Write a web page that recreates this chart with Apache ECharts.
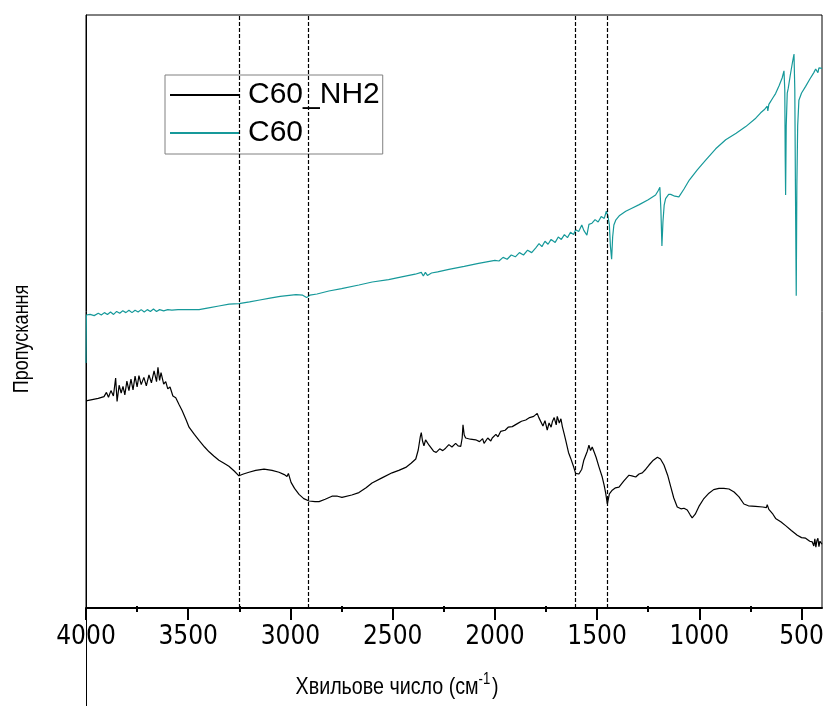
<!DOCTYPE html>
<html>
<head>
<meta charset="utf-8">
<script src="https://cdn.jsdelivr.net/npm/echarts@6/dist/echarts.min.js"></script>
<style>html,body{margin:0;padding:0;background:#fff}#c{width:823px;height:706px}</style>
</head>
<body>
<div id="c"></div>
<script>
// ---- data ----
const seriesNames = ['C60_NH2', 'C60'];
const majorTicks = [500, 1000, 1500, 2000, 2500, 3000, 3500, 4000];
const minorTicks = [750, 1250, 1750, 2250, 2750, 3250, 3750];
const markedBands = [3250, 2915, 1605, 1450];

const nh2Wn = [4000,3970,3940,3912,3900,3890,3878,3866,3855,3848,3838,3828,3819,3810,3800,3790,3780,3770,3760,3750,3741,3730,3717,3705,3692,3680,3667,3655,3648,3640,3633,3620,3610,3600,3589,3575,3561,3545,3530,3510,3496,3470,3447,3420,3398,3375,3350,3325,3301,3275,3252,3230,3203,3170,3129,3090,3056,3030,3017,3010,2997,2980,2958,2935,2909,2880,2860,2830,2797,2770,2748,2700,2665,2630,2601,2550,2503,2470,2436,2410,2387,2375,2365,2360,2354,2347,2339,2330,2322,2300,2287,2270,2255,2241,2225,2210,2192,2180,2167,2160,2156,2150,2143,2120,2094,2075,2060,2053,2035,2020,2013,1995,1985,1972,1950,1935,1915,1890,1870,1849,1830,1810,1793,1785,1776,1765,1755,1744,1735,1725,1719,1710,1700,1695,1685,1677,1670,1662,1654,1640,1629,1615,1605,1589,1575,1565,1556,1548,1540,1532,1524,1515,1505,1491,1475,1466,1458,1450,1440,1426,1410,1393,1370,1344,1330,1311,1295,1279,1262,1246,1225,1205,1190,1173,1155,1140,1125,1108,1090,1075,1066,1059,1045,1035,1020,1002,980,953,930,904,880,855,830,806,782,760,725,690,672,668,660,640,627,600,578,550,521,500,480,460,448,440,435,430,425,420,415,410,405,400];
const nh2T = [34.2,34.4,34.6,34.9,35.6,34.8,35.9,35.0,38.0,34.1,36.8,35.5,36.6,35.2,37.5,35.9,37.8,36.0,38.3,36.5,38.4,36.9,38.1,36.7,38.5,37.2,39.2,37.4,39.8,37.6,38.9,37.0,37.4,36.2,36.5,35.0,34.7,33.6,32.6,31.0,29.8,28.6,27.6,26.5,25.7,25.0,24.3,23.8,23.3,22.5,21.7,22.0,22.3,22.6,22.8,22.6,22.3,21.9,21.6,22.1,20.6,19.6,18.6,17.9,17.5,17.4,17.4,17.8,18.3,18.3,18.1,18.5,18.9,19.7,20.5,21.4,22.2,22.6,23.1,23.8,24.5,26.0,28.2,28.9,27.5,26.7,27.7,27.5,26.8,25.8,25.6,26.2,25.9,26.3,26.9,26.5,27.1,26.7,26.6,28.0,30.2,28.5,28.0,27.8,27.7,27.4,27.9,27.1,28.0,27.5,28.0,28.6,28.2,29.1,29.3,29.8,29.9,30.4,30.8,31.0,31.4,31.6,32.1,31.4,31.1,30.0,30.9,29.3,30.5,29.8,30.7,31.4,30.2,31.6,30.5,31.2,29.9,28.8,27.7,25.6,24.6,23.2,22.1,22.0,22.8,24.3,24.3,25.8,26.8,25.9,26.5,25.7,24.8,23.2,21.5,20.2,18.8,17.0,18.7,19.3,19.7,19.8,20.8,21.8,21.7,21.5,22.0,22.2,22.8,23.5,24.3,24.8,24.5,23.5,21.8,19.9,18.0,16.5,16.2,16.3,16.2,16.0,15.2,14.7,15.3,16.6,17.8,18.8,19.4,19.6,19.6,19.5,19.0,18.2,17.0,16.7,16.6,16.5,16.4,16.9,16.1,15.3,14.6,14.0,13.4,12.6,11.8,11.4,11.3,10.8,10.7,10.0,11.2,9.8,10.9,11.3,9.9,10.8,10.5,10.3];

const c60Wn = [4000,3998,3980,3960,3940,3925,3910,3895,3880,3865,3850,3835,3820,3805,3790,3775,3760,3745,3730,3715,3700,3685,3670,3655,3640,3620,3600,3580,3550,3500,3447,3400,3350,3300,3252,3200,3150,3100,3050,2973,2940,2921,2905,2870,2812,2750,2665,2600,2520,2450,2390,2360,2350,2340,2330,2310,2280,2225,2150,2080,2000,1980,1960,1940,1920,1900,1880,1860,1840,1820,1800,1784,1770,1755,1740,1725,1705,1690,1675,1660,1645,1630,1615,1605,1590,1575,1565,1550,1540,1525,1510,1495,1480,1465,1455,1447,1440,1435,1429,1424,1418,1409,1390,1360,1330,1294,1250,1214,1200,1193,1188,1183,1178,1172,1165,1150,1140,1120,1100,1075,1049,1010,969,920,871,820,773,724,700,680,668,665,660,640,627,610,595,586,582,580,578,575,570,565,555,545,537,533,530,526,523,519,513,500,480,460,440,431,425,420,415,410,400];
const c60T = [40.5,48.5,48.6,48.4,48.8,48.5,48.9,48.6,49.0,48.6,49.1,48.8,49.2,48.9,49.3,48.9,49.3,49.0,49.4,49.0,49.4,49.1,49.5,49.1,49.4,49.2,49.4,49.3,49.4,49.4,49.4,49.7,50.0,50.3,50.4,50.7,51.0,51.3,51.6,51.9,51.8,51.4,51.8,52.0,52.5,52.9,53.5,54.0,54.4,54.9,55.3,55.6,55.0,55.6,55.1,55.5,55.7,56.1,56.6,57.1,57.6,57.5,58.1,57.8,58.5,58.2,58.9,58.5,59.3,58.9,59.7,60.4,59.9,60.8,60.3,61.1,60.6,61.5,61.1,61.9,61.4,62.3,61.9,62.7,62.4,63.5,62.6,61.8,63.6,63.8,64.4,64.0,64.9,64.6,65.8,65.0,63.5,60.0,57.8,61.5,63.5,64.3,65.1,65.8,66.3,66.9,67.7,68.5,69.3,69.8,66.0,60.0,64.0,66.8,67.9,68.6,68.6,68.3,68.2,69.5,71.0,72.7,74.3,76.2,77.7,78.8,79.9,81.3,82.2,82.8,83.3,82.5,83.6,84.7,85.4,86.7,88.0,89.2,86.0,75.0,68.5,80.0,85.5,86.3,88.5,90.5,92.0,86.0,70.0,51.7,70.0,80.0,84.3,85.5,86.6,87.8,88.9,89.5,89.8,88.9,89.7,89.9,89.6];

const pairs = (xs, ys) => xs.map((x, i) => [x, ys[i]]);

const FONT_TICK = '"Liberation Sans Narrow", "Arial Narrow", "DejaVu Sans Condensed", sans-serif';
const FONT_SANS = '"Liberation Sans", Arial, sans-serif';

const chart = echarts.init(document.getElementById('c'), null, {renderer: 'canvas'});
chart.setOption({
  animation: false,
  backgroundColor: '#fff',
  grid: {left: 86, right: 1, top: 15, bottom: 98, containLabel: false, outerBoundsMode: 'none',
    show: true, borderColor: '#000', borderWidth: 1, backgroundColor: 'transparent'},
  legend: {
    left: 165, top: 75, orient: 'vertical',
    data: seriesNames,
    itemWidth: 69, itemHeight: 14, itemGap: 8,
    padding: [5, 3, 6, 4],
    borderColor: '#808080', borderWidth: 1,
    itemStyle: {opacity: 0},
    textStyle: {fontFamily: FONT_SANS, fontSize: 30, color: '#000', lineHeight: 30, padding: [0, 0, 0, 4]}
  },
  xAxis: [{
    type: 'value', min: 400, max: 4000, inverse: true, position: 'bottom',
    axisLine: {show: true, onZero: false, lineStyle: {color: '#000', width: 2}},
    axisTick: {show: true, inside: false, length: 12, lineStyle: {color: '#000', width: 2}, customValues: majorTicks},
    axisLabel: {show: true, margin: 16, fontFamily: FONT_TICK, fontSize: 26, color: '#000',
      customValues: majorTicks, showMinLabel: true, showMaxLabel: true, hideOverlap: false,
      formatter: v => String(v)},
    splitLine: {show: false}
  }, {
    type: 'value', min: 400, max: 4000, inverse: true, position: 'bottom', offset: 0,
    axisLine: {show: false},
    axisTick: {show: true, inside: false, length: 6, lineStyle: {color: '#000', width: 2}, customValues: minorTicks},
    axisLabel: {show: false},
    splitLine: {show: false}
  }],
  yAxis: {
    type: 'value', min: -0.33, max: 98.5,
    axisLine: {show: true, lineStyle: {color: '#000', width: 1}},
    axisTick: {show: false}, axisLabel: {show: false}, splitLine: {show: false}
  },
  series: [{
    name: seriesNames[0], type: 'line', symbol: 'none', color: '#000',
    lineStyle: {width: 1.2, color: '#000'},
    data: pairs(nh2Wn, nh2T),
    markLine: {
      silent: true, symbol: 'none', label: {show: false},
      lineStyle: {color: '#000', type: [4, 2], width: 1.2},
      data: markedBands.map(v => ({xAxis: v}))
    }
  }, {
    name: seriesNames[1], type: 'line', symbol: 'none', color: '#16999a',
    lineStyle: {width: 1.2, color: '#16999a'},
    data: pairs(c60Wn, c60T)
  }],
  graphic: [
    {type: 'line', shape: {x1: 86.5, y1: 608, x2: 86.5, y2: 706}, style: {stroke: '#000', lineWidth: 1}},
    {type: 'text', x: 397, y: 687, scaleX: 0.82, style: {
      text: '{a|Хвильове число (см}{b|-1}{a|)}', align: 'center', verticalAlign: 'middle',
      rich: {a: {fontFamily: FONT_SANS, fontSize: 24, fill: '#000'}, b: {fontFamily: FONT_SANS, fontSize: 16, fill: '#000', verticalAlign: 'top', padding: [0, 2, 14, 0]}}
    }},
    {type: 'text', x: 22, y: 339, rotation: Math.PI / 2, scaleX: 0.82, style: {
      text: 'Пропускання', align: 'center', verticalAlign: 'middle',
      fontFamily: FONT_SANS, fontSize: 22, fill: '#000'
    }}
  ]
});
</script>
</body>
</html>
